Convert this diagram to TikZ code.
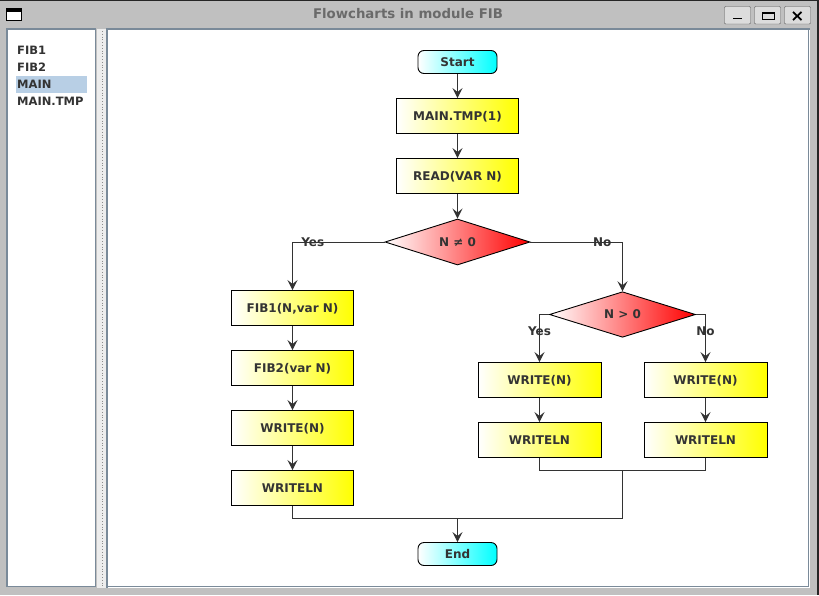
\documentclass[tikz,border=0pt]{standalone}
\usepackage{fontspec}
\setmainfont{DejaVu Sans}
\usetikzlibrary{shapes.geometric,arrows.meta}
\definecolor{winbg}{HTML}{C0C0C0}
\definecolor{edge}{HTML}{7A8A99}
\definecolor{ink}{HTML}{333333}
\definecolor{selbg}{HTML}{B8CFE5}
\definecolor{titlegray}{HTML}{6A6A6A}
\definecolor{btn}{HTML}{DCDCDC}
\definecolor{split}{HTML}{EDEDED}

\begin{document}
\begin{tikzpicture}[x=1pt,y=-1pt,
    every node/.style={font=\fontsize{12}{14}\bfseries\selectfont, text=ink, text height=8.75pt, text depth=0pt},
    proc/.style={draw=black, line width=0.9pt, left color=white, right color=yellow, minimum width=122pt, minimum height=35pt, inner sep=0pt},
    term/.style={draw=black, line width=0.9pt, rounded corners=6pt, left color=white, right color=cyan, minimum width=79pt, minimum height=23pt, inner sep=0pt},
    dec/.style={diamond, draw=black, line width=0.9pt, left color=white, right color=red, minimum width=145pt, minimum height=46pt, inner sep=0pt},
    item/.style={anchor=west, inner sep=0pt, font=\fontsize{11.5}{13}\bfseries\selectfont},
    lbl/.style={inner sep=0pt},
    flow/.style={draw=ink, line width=1pt, -{Stealth[length=10pt,width=10pt,inset=4pt]}},
    link/.style={draw=ink, line width=1pt}]
        % window frame
        \fill[winbg] (0,0) rectangle (819,595);
        \fill[black!85] (0,0) rectangle (819,1);
        \fill[black!85] (816.5,0) rectangle (819,595);
        \node[font=\fontsize{13.3}{15}\bfseries\selectfont, text=titlegray, inner sep=0pt] (title) at (408,13.7) {Flowcharts in module FIB};
        \draw[black, fill=white] (6.5,8.5) rectangle (21.5,20.5);
        \fill[black] (6.5,8.5) rectangle (21.5,12);
        % title buttons
        \draw[black!65, fill=btn, rounded corners=1pt] (724.5,6.5) rectangle (750.5,24);
        \draw[black!65, fill=btn, rounded corners=1pt] (754.5,6.5) rectangle (780.5,24);
        \draw[black!65, fill=btn, rounded corners=1pt] (784.5,6.5) rectangle (810.5,24);
        \fill[black] (733,17.5) rectangle (742,19.3);
        \draw[black, line width=1pt] (762,12) rectangle (774,19);
        \fill[black] (762,11.5) rectangle (774,13.5);
        \draw[black, line width=1.8pt] (793,12) -- (801.5,20) (793,20) -- (801.5,12);
        % panels
        \fill[white] (7,29) rectangle (96,587);
        \draw[edge, line width=2pt] (7,587) -- (7,29) -- (96,29);
        \draw[edge] (95.5,30) -- (95.5,586.5) -- (8,586.5);
        \fill[split] (97,29) rectangle (106,588);
        \draw[black!45, dotted, line width=0.8pt] (102,31) -- (102,587);
        \fill[white] (107,29) rectangle (810,588);
        \draw[edge, line width=2pt] (107,588) -- (107,29) -- (810,29);
        \draw[edge] (808.5,30) -- (808.5,586.5) -- (108,586.5);
        % module list
        \fill[selbg] (16,76) rectangle (87,93);
        \node[item] (fibA) at (17,50.5) {FIB1};
        \node[item] (fibB) at (17,67.5) {FIB2};
        \node[item] (main) at (17,84.5) {MAIN};
        \node[item] (maintmp) at (17,101.5) {MAIN.TMP};
        % flowchart
        \node[term] (start) at (457.5,62) {Start};
        \node[proc] (tmp) at (457.5,116) {MAIN.TMP(1)};
        \node[proc] (read) at (457.5,176) {READ(VAR N)};
        \node[dec] (d1) at (457.5,242) {N ≠ 0};
        \node[proc] (fib1) at (292.5,308) {FIB1(N,var N)};
        \node[proc] (fib2) at (292.5,368) {FIB2(var N)};
        \node[proc] (w3) at (292.5,428) {WRITE(N)};
        \node[proc] (wl3) at (292.5,488) {WRITELN};
        \node[dec, minimum width=146pt, minimum height=45pt] (d2) at (622.5,314.5) {N > 0};
        \node[proc, minimum width=123pt] (w1) at (539.5,380) {WRITE(N)};
        \node[proc, minimum width=123pt] (wl1) at (539.5,440) {WRITELN};
        \node[proc, minimum width=123pt] (w2) at (705.5,380) {WRITE(N)};
        \node[proc, minimum width=123pt] (wl2) at (705.5,440) {WRITELN};
        \node[term] (end) at (457.5,554) {End};
        \coordinate (m1) at (622.5,470.5);
        \coordinate (m2) at (457.5,518.5);

        \draw[flow] (start) -- (tmp);
        \draw[flow] (tmp) -- (read);
        \draw[flow] (read) -- (d1);
        \draw[flow] (d1.west) -| node[lbl, pos=0.39] (yes1) {Yes} (fib1.north);
        \draw[flow] (d1.east) -| node[lbl, pos=0.39] (no1) {No} (d2.north);
        \draw[flow] (fib1) -- (fib2);
        \draw[flow] (fib2) -- (w3);
        \draw[flow] (w3) -- (wl3);
        \draw[flow] (d2.west) -| node[lbl, pos=0.68] (yes2) {Yes} (w1.north);
        \draw[flow] (d2.east) -| node[lbl, pos=0.68] (no2) {No} (w2.north);
        \draw[flow] (w1) -- (wl1);
        \draw[flow] (w2) -- (wl2);
        \draw[link] (wl1.south) |- (m1);
        \draw[link] (m1) -| (wl2.south);
        \draw[link] (m1) |- (m2);
        \draw[link] (wl3.south) |- (m2);
        \draw[flow] (m2) -- (end);
    \end{tikzpicture}
\end{document}
